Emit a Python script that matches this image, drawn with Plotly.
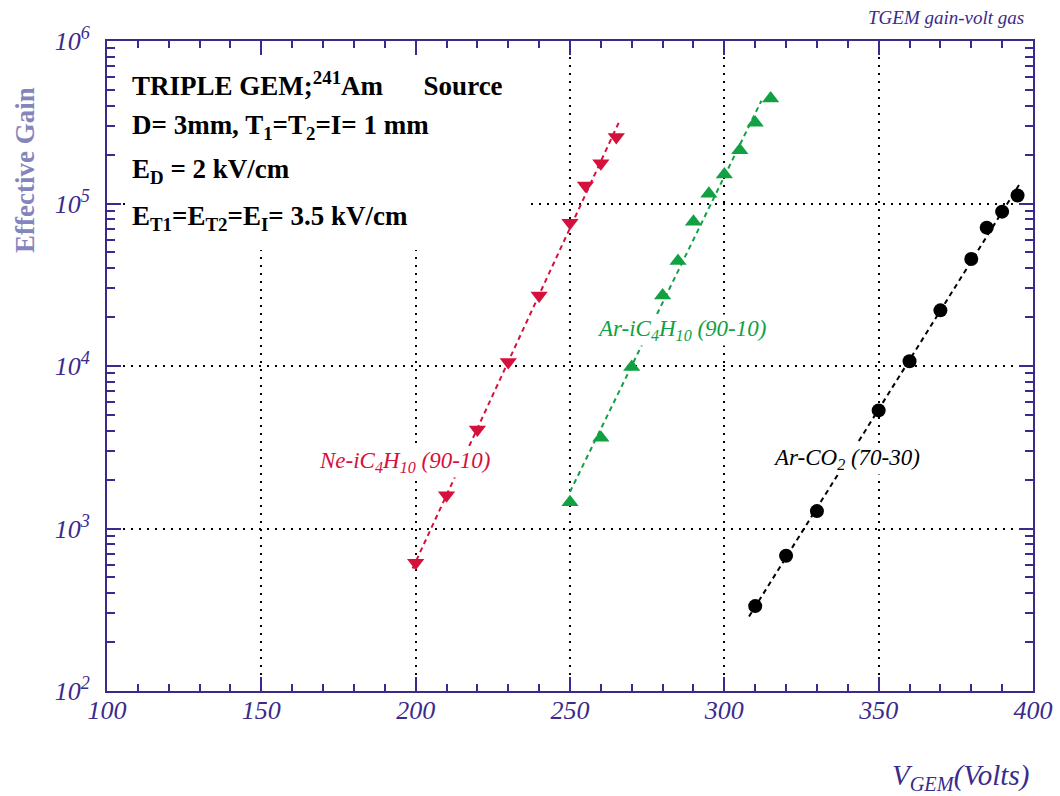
import numpy as np
import plotly.graph_objects as go

# ---------------- data ----------------
ne_v = [200, 210, 220, 230, 240, 250, 255, 260, 265]
ne_gain = [615, 1600, 4060, 10600, 27200, 76000, 129000, 177000, 257000]

ar_ic4h10_v = [250, 260, 270, 280, 285, 290, 295, 300, 305, 310, 315]
ar_ic4h10_gain = [1450, 3620, 9870, 27200, 44200, 77300, 115000, 151000, 213000, 314000, 443000]

arco2_v = [310, 320, 330, 350, 360, 370, 380, 385, 390, 395]
arco2_gain = [333, 680, 1280, 5330, 10700, 22000, 45500, 71000, 89100, 112000]

# fit ranges (volts)
ne_fit_range = [199, 266]
ar_ic4h10_fit_range = [250, 312]
arco2_fit_range = [308, 396]

x_ticks = [100, 150, 200, 250, 300, 350, 400]
y_ticks = [1e2, 1e3, 1e4, 1e5, 1e6]
y_ticktext = ["10<sup>2</sup>", "10<sup>3</sup>", "10<sup>4</sup>", "10<sup>5</sup>", "10<sup>6</sup>"]

# ---------------- style ----------------
W, H = 1060, 796
L, R, T, B = 107, 1033, 41, 691
PURPLE = "#3b2a8c"
RED = "#d6103c"
GREEN = "#12a142"
BLACK = "#000000"
SERIF = "Liberation Serif, Times New Roman, serif"


def px(xp):
    return (xp - L) / (R - L)


def py(yp):
    return (B - yp) / (B - T)


def fit_line(v, g, rng):
    p = np.polyfit(np.array(v, float), np.log10(np.array(g, float)), 1)
    xs = np.linspace(rng[0], rng[1], 50)
    return xs, 10 ** np.polyval(p, xs)


fig = go.Figure()

for v, g, rng, col in [(ne_v, ne_gain, ne_fit_range, RED),
                       (ar_ic4h10_v, ar_ic4h10_gain, ar_ic4h10_fit_range, GREEN),
                       (arco2_v, arco2_gain, arco2_fit_range, BLACK)]:
    xs, ys = fit_line(v, g, rng)
    fig.add_trace(go.Scatter(x=xs, y=ys, mode="lines",
                             line=dict(color=col, width=2, dash="5px,4px"),
                             showlegend=False, hoverinfo="skip"))

fig.add_trace(go.Scatter(x=ne_v, y=ne_gain, mode="markers",
                         marker=dict(symbol="triangle-down", size=15, color=RED),
                         showlegend=False))
fig.add_trace(go.Scatter(x=ar_ic4h10_v, y=ar_ic4h10_gain, mode="markers",
                         marker=dict(symbol="triangle-up", size=15, color=GREEN),
                         showlegend=False))
fig.add_trace(go.Scatter(x=arco2_v, y=arco2_gain, mode="markers",
                         marker=dict(symbol="circle", size=14, color=BLACK),
                         showlegend=False))

axis_common = dict(
    showline=True, linecolor=PURPLE, linewidth=2, mirror="ticks",
    ticks="inside", tickcolor=PURPLE, tickwidth=2, ticklen=14,
    showgrid=True, gridcolor="black", gridwidth=1.5, griddash="2px,6px",
    zeroline=False,
    tickfont=dict(family=SERIF, size=26, color=PURPLE, style="italic"),
)

fig.update_xaxes(range=[100, 400], tickmode="array", tickvals=x_ticks,
                 minor=dict(dtick=10, ticks="inside", ticklen=7, tickcolor=PURPLE,
                            tickwidth=1.5, showgrid=False),
                 ticklabelstandoff=-5, **axis_common)
fig.update_yaxes(type="log", range=[2, 6], tickmode="array", tickvals=y_ticks,
                 ticktext=y_ticktext,
                 minor=dict(dtick="D1", ticks="inside", ticklen=8, tickcolor=PURPLE,
                            tickwidth=1.5, showgrid=False),
                 ticklabelstandoff=10, **axis_common)

# white box behind the info text (hides grid)
fig.add_shape(type="rect", xref="paper", yref="paper",
              x0=px(130), x1=px(527), y0=py(250), y1=py(57),
              fillcolor="white", line=dict(width=0), layer="above")

ann = []
box_font = dict(family=SERIF, size=27, color="black")
box_lines = [
    ("<b>TRIPLE GEM;<sup>241</sup>Am&nbsp;&nbsp;&nbsp;&nbsp;&nbsp; Source</b>", 84),
    ("<b>D= 3mm, T<sub>1</sub>=T<sub>2</sub>=I= 1 mm</b>", 127),
    ("<b>E<sub>D</sub> = 2 kV/cm</b>", 171),
    ("<b>E<sub>T1</sub>=E<sub>T2</sub>=E<sub>I</sub>= 3.5 kV/cm</b>", 218),
]
for txt, yy in box_lines:
    ann.append(dict(text=txt, x=px(130), y=py(yy), xref="paper", yref="paper",
                    xanchor="left", yanchor="middle", showarrow=False, font=box_font))

lab_font = dict(family=SERIF, size=23, style="italic")
ann.append(dict(text="Ne-iC<sub>4</sub>H<sub>10</sub> (90-10)", x=px(404), y=py(462),
                xref="paper", yref="paper", xanchor="center", yanchor="middle",
                showarrow=False, bgcolor="white",
                font=dict(color=RED, **lab_font)))
ann.append(dict(text="Ar-iC<sub>4</sub>H<sub>10</sub> (90-10)", x=px(681), y=py(330),
                xref="paper", yref="paper", xanchor="center", yanchor="middle",
                showarrow=False, bgcolor="white",
                font=dict(color=GREEN, **lab_font)))
ann.append(dict(text="Ar-CO<sub>2</sub> (70-30)", x=px(846), y=py(459),
                xref="paper", yref="paper", xanchor="center", yanchor="middle",
                showarrow=False, bgcolor="white",
                font=dict(color=BLACK, **lab_font)))

# axis titles
ann.append(dict(text="V<sub>GEM</sub>(Volts)", x=px(1031), y=py(777),
                xref="paper", yref="paper", xanchor="right", yanchor="middle",
                showarrow=False,
                font=dict(family=SERIF, size=29, color=PURPLE, style="italic")))
ann.append(dict(text="<b>Effective Gain</b>", x=px(25), y=py(170),
                xref="paper", yref="paper", xanchor="center", yanchor="middle",
                textangle=-90, showarrow=False,
                font=dict(family=SERIF, size=27, color="#8585bd")))
ann.append(dict(text="TGEM gain-volt gas", x=px(1026), y=py(17),
                xref="paper", yref="paper", xanchor="right", yanchor="middle",
                showarrow=False,
                font=dict(family=SERIF, size=19, color=PURPLE, style="italic")))

fig.update_layout(
    width=W, height=H,
    margin=dict(l=L, r=W - R, t=T, b=H - B, autoexpand=False),
    paper_bgcolor="white", plot_bgcolor="white",
    annotations=ann, showlegend=False,
)

fig.write_html("out.html", config={"displayModeBar": False},
               post_script="document.body.style.margin='0';document.body.style.padding='0';")
